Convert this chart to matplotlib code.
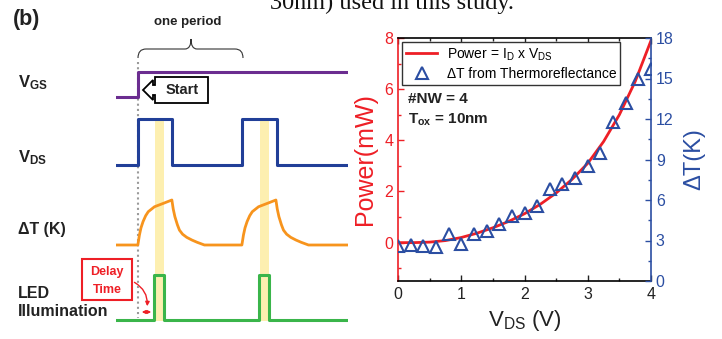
import numpy as np
import matplotlib
matplotlib.use("Agg")
import matplotlib.pyplot as plt
from matplotlib.patches import Rectangle, Polygon, FancyArrowPatch, PathPatch
from matplotlib.path import Path
from matplotlib.ticker import MultipleLocator

plt.rcParams['font.family'] = ['Liberation Sans', 'DejaVu Sans']
plt.rcParams['mathtext.fontset'] = 'custom'
plt.rcParams['mathtext.rm'] = 'Liberation Sans'
plt.rcParams['mathtext.bf'] = 'Liberation Sans:bold'
plt.rcParams['mathtext.it'] = 'Liberation Sans:italic'

# ---- right panel: power and thermoreflectance data
vds = [0, 0.25, 0.5, 0.75, 1.0, 1.25, 1.5, 1.75, 2.0, 2.25, 2.5, 2.75,
       3.0, 3.25, 3.5, 3.75, 4.0]
power_mw = [0.0, 0.0, 0.02, 0.08, 0.2, 0.37, 0.58, 0.83, 1.13, 1.5, 1.94,
            2.47, 3.1, 3.95, 5.0, 6.3, 7.9]
vds_tr = [0, 0.2, 0.4, 0.6, 0.8, 1.0, 1.2, 1.4, 1.6, 1.8, 2.0, 2.2, 2.4,
          2.6, 2.8, 3.0, 3.2, 3.4, 3.6, 3.8, 4.0]
dT_tr = [2.59, 2.69, 2.59, 2.50, 3.46, 2.74, 3.48, 3.73, 4.2, 4.84, 5.06,
         5.56, 6.79, 7.19, 7.63, 8.54, 9.46, 11.76, 13.17, 14.97, 15.69]

# ---- left panel: schematic waveforms (time in periods, level 0..1)
vgs_t = [-0.21, 0, 0, 2.02]
vgs_lvl = [0, 0, 1, 1]
vds_t = [-0.21, 0, 0, 0.327, 0.327, 1.0, 1.0, 1.337, 1.337, 2.02]
vds_lvl = [0, 0, 1, 1, 0, 0, 1, 1, 0, 0]
dT_shape_t = [0, 0.015, 0.03, 0.05, 0.075, 0.1, 0.16, 0.25, 0.327,
              0.34, 0.356, 0.38, 0.40, 0.43, 0.47, 0.52, 0.57, 0.64]
dT_shape_lvl = [0, 0.22, 0.38, 0.52, 0.65, 0.74, 0.85, 0.93, 1.0,
                0.8, 0.63, 0.45, 0.33, 0.24, 0.17, 0.11, 0.06, 0.0]
led_t = [-0.21, 0.154, 0.154, 0.247, 0.247, 1.166, 1.166, 1.257, 1.257, 2.02]
led_lvl = [0, 0, 1, 1, 0, 0, 1, 1, 0, 0]
bands = [(0.166, 0.25), (1.173, 1.256)]

red = '#ee1f26'
blue = '#2b4ea2'
purple = '#6b2d90'
dblue = '#213f98'
orange = '#f7941d'
green = '#3ab54a'
yellow = '#fdefb0'

fig = plt.figure(figsize=(7.22, 3.39), dpi=100)

# overlay in pixel coordinates for labels and boxes
ax0 = fig.add_axes([0, 0, 1, 1])
ax0.set_xlim(0, 722)
ax0.set_ylim(339, 0)
ax0.axis('off')

# schematic axes: x in periods, y in pixels
sch = fig.add_axes([116 / 722, 0, 232 / 722, 1])
sch.set_xlim(-0.21, 2.02)
sch.set_ylim(339, 0)
sch.axis('off')

for t0, t1 in bands:
    sch.add_patch(Rectangle((t0, 119), t1 - t0, 202, color=yellow, lw=0, zorder=1))

sch.plot([0, 0], [62, 318], color='#9a9a9a', ls=(0, (1, 1.5)), lw=1.5, zorder=2)

sch.plot(vgs_t, 97 - 25 * np.array(vgs_lvl), color=purple, lw=2.2, zorder=3)
sch.plot(vds_t, 165 - 46 * np.array(vds_lvl), color=dblue, lw=2.2, zorder=3)
dT_t = np.concatenate([[-0.21], dT_shape_t, np.array(dT_shape_t) + 1, [2.02]])
dT_l = np.concatenate([[0], dT_shape_lvl, dT_shape_lvl, [0]])
sch.plot(dT_t, 245 - 45 * dT_l, color=orange, lw=2.0, zorder=3)
sch.plot(led_t, 320 - 45 * np.array(led_lvl), color=green, lw=2.2, zorder=3)

# brace for one period
verts = [(138, 58), (138, 49), (146, 49), (185, 49), (191, 49), (191, 39),
         (191, 49), (197, 49), (235, 49), (243, 49), (243, 58)]
codes = [Path.MOVETO, Path.CURVE3, Path.CURVE3, Path.LINETO, Path.CURVE3,
         Path.CURVE3, Path.CURVE3, Path.CURVE3, Path.LINETO, Path.CURVE3,
         Path.CURVE3]
ax0.add_patch(PathPatch(Path(verts, codes), fill=False, lw=0.8, ec='#333333'))
ax0.text(188, 22, 'one period', fontsize=9.5, fontweight='bold',
         ha='center', va='center', color='#222222')

# start marker
ax0.add_patch(Polygon([(143, 90), (153, 80), (153, 85), (155, 85), (155, 77),
                       (208, 77), (208, 103), (155, 103), (155, 95),
                       (153, 95), (153, 100)], closed=True, fc='white',
                      ec='black', lw=1.3, zorder=5))
ax0.text(182, 90.5, 'Start', fontsize=10.5, fontweight='bold', ha='center',
         va='center', zorder=6, color='#222222')

# signal labels
ax0.text(13, 9, '(b)', fontsize=15.5, fontweight='bold', va='top', ha='left',
         color='#222222')
ax0.text(18, 87, r'$\mathbf{V_{GS}}$', fontsize=12, va='baseline', color='#222222')
ax0.text(18, 162, r'$\mathbf{V_{DS}}$', fontsize=12, va='baseline', color='#222222')
ax0.text(18, 234, 'ΔT (K)', fontsize=11.5, fontweight='bold', va='baseline',
         color='#222222')
ax0.text(18, 298, 'LED', fontsize=11.5, fontweight='bold', va='baseline',
         color='#222222')
ax0.text(18, 316.5, 'Illumination', fontsize=11.5, fontweight='bold',
         va='baseline', color='#222222')

# delay time box and arrows
ax0.add_patch(Rectangle((82, 259), 50, 41, fill=False, ec=red, lw=1.5))
ax0.text(107, 272, 'Delay', fontsize=9, fontweight='bold', color=red,
         ha='center', va='center')
ax0.text(107, 290, 'Time', fontsize=9, fontweight='bold', color=red,
         ha='center', va='center')
ax0.add_patch(FancyArrowPatch((132, 281), (147, 309),
                              connectionstyle='arc3,rad=-0.35',
                              arrowstyle='-|>', mutation_scale=6,
                              color=red, lw=1.0))
ax0.add_patch(FancyArrowPatch((139, 312), (154, 312), arrowstyle='<|-|>',
                              mutation_scale=5, color=red, lw=1.0))

# clipped caption line from the page above
fig.text(270 / 722, 1 - 9.5 / 339, '30nm) used in this study.',
         family='Liberation Serif', fontsize=17.5, va='baseline', ha='left',
         color='#111111')

# ---- right panel
ax = fig.add_axes([398 / 722, 1 - 281 / 339, 253 / 722, 243 / 339])
l1, = ax.plot(vds, power_mw, color=red, lw=2.0,
              label=r'Power = I$_{\rm D}$ x V$_{\rm DS}$')
ax.set_xlim(0, 4)
ax.set_ylim(-1.5, 8)
ax.xaxis.set_major_locator(MultipleLocator(1))
ax.xaxis.set_minor_locator(MultipleLocator(0.5))
ax.yaxis.set_major_locator(MultipleLocator(2))
ax.yaxis.set_minor_locator(MultipleLocator(1))
ax.tick_params(axis='x', which='both', direction='in', top=True,
               labelsize=11.5, colors='#222222', pad=4.5)
ax.tick_params(axis='y', which='both', direction='in', right=False,
               labelsize=11.5, colors=red)
ax.tick_params(which='major', length=4.5, width=1)
ax.tick_params(which='minor', length=2.5, width=1)
ax.spines['left'].set_color(red)
ax.spines['right'].set_visible(False)
for s in ax.spines.values():
    s.set_linewidth(1.2)
ax.set_ylabel('Power(mW)', color=red, fontsize=18, labelpad=5)
ax.set_xlabel(r'V$_{\rm DS}$ (V)', fontsize=16, color='#222222', labelpad=4)

ax2 = ax.twinx()
l2, = ax2.plot(vds_tr, dT_tr, '^', mfc='none', mec=blue, ms=8, mew=1.5,
               label='ΔT from Thermoreflectance')
ax2.set_ylim(0, 18)
ax2.yaxis.set_major_locator(MultipleLocator(3))
ax2.yaxis.set_minor_locator(MultipleLocator(1.5))
ax2.tick_params(axis='y', which='both', direction='in', labelsize=11.5,
                colors=blue)
ax2.tick_params(which='major', length=4.5, width=1)
ax2.tick_params(which='minor', length=2.5, width=1)
for k in ['left', 'top', 'bottom']:
    ax2.spines[k].set_visible(False)
ax2.spines['right'].set_color(blue)
ax2.spines['right'].set_linewidth(1.2)
ax2.set_ylabel('ΔT(K)', color=blue, fontsize=17, labelpad=7)

leg = ax2.legend(handles=[l1, l2], loc='upper left', fontsize=10,
                 fancybox=False, edgecolor='#333333', framealpha=1,
                 borderaxespad=0.3, handlelength=2.2, labelspacing=0.3,
                 borderpad=0.3, handletextpad=0.7)
leg.get_frame().set_linewidth(1.0)

ax2.text(0.04, 0.7325, '#NW = 4', transform=ax.transAxes, fontsize=11,
         fontweight='bold', va='baseline', color='#222222')
ax2.text(0.04, 0.649, r'$\mathbf{T_{ox}}$ = 10nm', transform=ax.transAxes,
         fontsize=11, fontweight='bold', va='baseline', color='#222222')

fig.savefig('out.png', dpi=100)
